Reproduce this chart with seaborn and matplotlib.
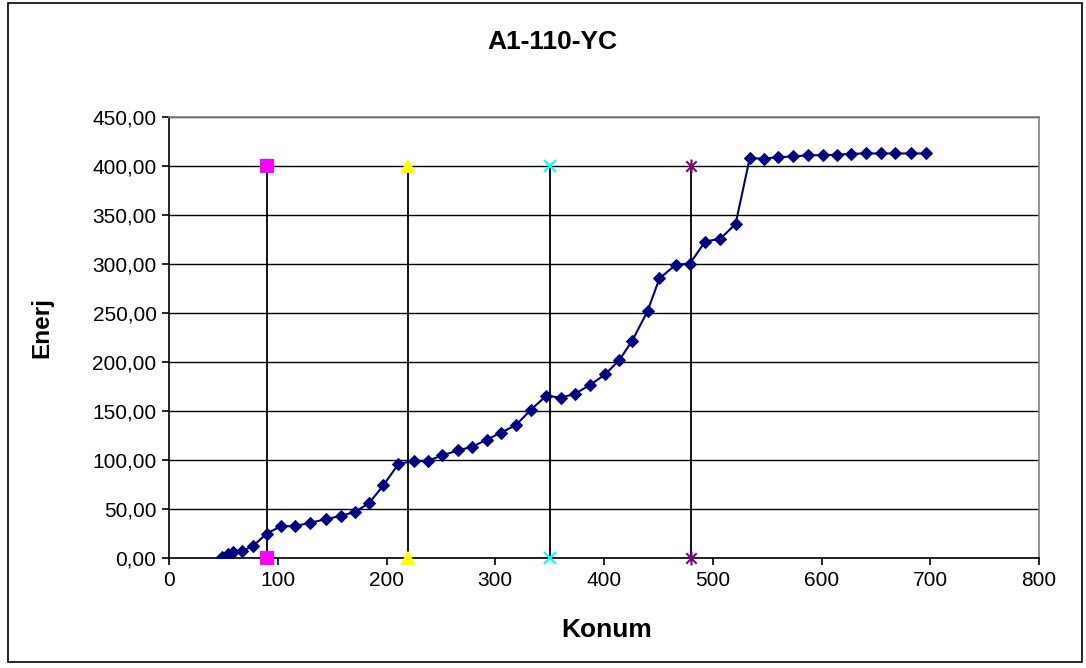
import matplotlib
matplotlib.use("Agg")
import matplotlib.pyplot as plt
import seaborn as sns
import pandas as pd
from matplotlib.patches import Rectangle
from matplotlib.path import Path
from matplotlib.ticker import FuncFormatter

# Energy curve along the position
konum = [49, 54, 59, 67, 77, 90, 103, 116, 130, 144, 158, 171, 184, 197, 211,
         225, 238, 251, 266, 279, 292, 305, 319, 333, 347, 360, 373, 387, 401,
         414, 426, 440, 451, 466, 479, 493, 507, 521, 534, 547, 560, 574, 588,
         601, 614, 627, 641, 655, 668, 682, 696]
enerj = [1, 4, 6, 7, 12, 25, 32.5, 32.5, 36, 39.5, 43, 47, 56, 74, 96,
         99, 99, 104.7, 109.8, 113.6, 120.7, 127.8, 135.6, 151.5, 165.6, 163.6,
         167.3, 176.5, 187.3, 201.8, 221.8, 251.8, 285.3, 299.2, 300.5, 322.8,
         325.9, 340.8, 408, 407.5, 409, 409.7, 411, 411, 411.5, 412.5, 412.8,
         412.8, 412.8, 412.8, 412.8]

# Section boundaries, each drawn as a vertical segment
bolum_x = [90, 220, 350, 480]
bolum_y = [0, 400]
bolum_renk = ["#FF00FF", "#FFFF00", "#00FFFF", "#800080"]

y_ticks = [0, 50, 100, 150, 200, 250, 300, 350, 400, 450]
x_ticks = [0, 100, 200, 300, 400, 500, 600, 700, 800]

sns.set_style("white")
plt.rcParams["font.family"] = ["Liberation Sans", "DejaVu Sans"]
plt.rcParams["text.color"] = "black"
plt.rcParams["xtick.color"] = "black"
plt.rcParams["ytick.color"] = "black"
plt.rcParams["axes.labelcolor"] = "black"

fig = plt.figure(figsize=(10.86, 6.68), dpi=100)
ax = fig.add_axes([169 / 1086, 1 - 558 / 668, 870 / 1086, 441 / 668])

# outer chart frame
fig.patches.append(Rectangle((7.5 / 1086, 1 - 662 / 668), 1074 / 1086, 659 / 668,
                             transform=fig.transFigure, fill=False,
                             edgecolor="black", linewidth=1.2, zorder=0))

# asterisk marker: vertical stroke plus an x
asterisk = Path([(0, -1), (0, 1), (-0.75, -0.75), (0.75, 0.75),
                 (-0.75, 0.75), (0.75, -0.75)],
                [Path.MOVETO, Path.LINETO, Path.MOVETO, Path.LINETO,
                 Path.MOVETO, Path.LINETO])
markers = ["s", "^", "x", asterisk]
sizes = [8, 9, 9, 10]

for xv, col, mk, ms in zip(bolum_x, bolum_renk, markers, sizes):
    seg = pd.DataFrame({"x": [xv, xv], "y": bolum_y})
    sns.lineplot(data=seg, x="x", y="y", ax=ax, estimator=None, sort=False,
                 color="black", linewidth=1.3, zorder=3)
    ax.plot(seg["x"], seg["y"], linestyle="none", marker=mk, markersize=ms,
            markerfacecolor=col, markeredgecolor=col, markeredgewidth=1.5,
            clip_on=False, zorder=5)

df = pd.DataFrame({"Konum": konum, "Enerj": enerj})
sns.lineplot(data=df, x="Konum", y="Enerj", ax=ax, estimator=None, sort=False,
             color="#000080", linewidth=1.5, marker="D", markersize=6.5,
             markeredgecolor="#000080", markerfacecolor="#000080", zorder=4)

ax.set_xlim(0, 800)
ax.set_ylim(0, 450)
ax.set_xticks(x_ticks)
ax.set_yticks(y_ticks)
ax.yaxis.set_major_formatter(FuncFormatter(lambda v, p: f"{v:.2f}".replace(".", ",")))
ax.yaxis.grid(True, color="black", linewidth=1.0)
ax.xaxis.grid(False)
ax.set_axisbelow(True)

for s in ["left", "bottom"]:
    ax.spines[s].set_color("black")
    ax.spines[s].set_linewidth(1.2)
for s in ["top", "right"]:
    ax.spines[s].set_color("#808080")
    ax.spines[s].set_linewidth(1.2)

ax.tick_params(axis="both", which="major", direction="out", length=5, width=1.2,
               color="black", labelcolor="black", labelsize=15, pad=4,
               bottom=True, left=True)

ax.set_xlabel("")
ax.set_ylabel("")
fig.text(552 / 1086, 1 - 42 / 668, "A1-110-YC", ha="center", va="center",
         fontsize=19, fontweight="bold", color="black")
fig.text(607 / 1086, 1 - 630 / 668, "Konum", ha="center", va="center",
         fontsize=19, fontweight="bold", color="black")
fig.text(42 / 1086, 1 - 328 / 668, "Enerj", ha="center", va="center",
         rotation=90, fontsize=17.5, fontweight="bold", color="black")

fig.savefig("out.png", dpi=100)
